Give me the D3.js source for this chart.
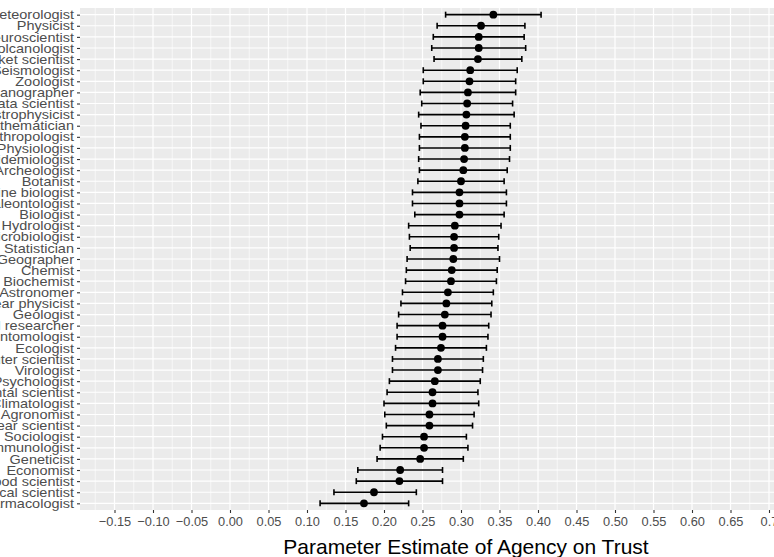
<!DOCTYPE html>
<html>
<head>
<meta charset="utf-8">
<script src="https://cdn.jsdelivr.net/npm/d3@7"></script>
<style>
  body { margin: 0; background: #fff; }
  svg { display: block; font-family: "Liberation Sans", Arial, sans-serif; }
</style>
</head>
<body>
<svg id="chart" width="774" height="557"></svg>
<script>
// professions, top to bottom
var professions = ["Meteorologist", "Physicist", "Neuroscientist", "Volcanologist", "Rocket scientist",
  "Seismologist", "Zoologist", "Oceanographer", "Data scientist", "Astrophysicist", "Mathematician",
  "Anthropologist", "Physiologist", "Epidemiologist", "Archeologist", "Botanist", "Marine biologist",
  "Paleontologist", "Biologist", "Hydrologist", "Microbiologist", "Statistician", "Geographer",
  "Chemist", "Biochemist", "Astronomer", "Nuclear physicist", "Geologist", "Medical researcher",
  "Entomologist", "Ecologist", "Computer scientist", "Virologist", "Psychologist",
  "Environmental scientist", "Climatologist", "Agronomist", "Nuclear scientist", "Sociologist",
  "Immunologist", "Geneticist", "Economist", "Food scientist", "Political scientist", "Pharmacologist"];

// point estimates
var estimates = [0.342, 0.326, 0.323, 0.323, 0.322, 0.312, 0.311, 0.309, 0.308, 0.307, 0.306,
  0.305, 0.305, 0.304, 0.303, 0.300, 0.298, 0.298, 0.298, 0.292, 0.291, 0.291, 0.290,
  0.288, 0.287, 0.283, 0.281, 0.279, 0.276, 0.276, 0.274, 0.270, 0.270, 0.266,
  0.263, 0.263, 0.259, 0.259, 0.252, 0.252, 0.247, 0.221, 0.220, 0.187, 0.174];

// lower / upper bounds of the intervals
var lower = [0.280, 0.269, 0.264, 0.262, 0.265, 0.251, 0.251, 0.247, 0.249, 0.245, 0.248,
  0.246, 0.246, 0.245, 0.246, 0.244, 0.237, 0.237, 0.240, 0.232, 0.233, 0.234, 0.230,
  0.229, 0.228, 0.224, 0.222, 0.219, 0.217, 0.217, 0.215, 0.211, 0.211, 0.207,
  0.204, 0.200, 0.201, 0.203, 0.198, 0.195, 0.191, 0.166, 0.164, 0.135, 0.117];
var upper = [0.404, 0.383, 0.382, 0.384, 0.379, 0.373, 0.371, 0.371, 0.367, 0.369, 0.364,
  0.364, 0.364, 0.363, 0.360, 0.356, 0.359, 0.359, 0.356, 0.352, 0.349, 0.348, 0.350,
  0.347, 0.346, 0.342, 0.340, 0.339, 0.336, 0.335, 0.333, 0.329, 0.328, 0.325,
  0.322, 0.323, 0.317, 0.315, 0.307, 0.309, 0.303, 0.276, 0.276, 0.242, 0.232];

var xTicks = d3.range(-0.15, 0.7001, 0.05);

var svg = d3.select("#chart");
var panel = { left: 80, top: 8, right: 780, bottom: 510 };

var x = d3.scaleLinear().domain([-0.15, 0.70]).range([114.5, 769]);
var y = d3.scalePoint().domain(professions).range([panel.top, panel.bottom]).padding(0.6);

var rows = professions.map(function(p, i) {
  return { name: p, est: estimates[i], lo: lower[i], hi: upper[i] };
});

svg.append("rect")
  .attr("x", panel.left).attr("y", panel.top)
  .attr("width", panel.right - panel.left).attr("height", panel.bottom - panel.top)
  .attr("fill", "#ebebeb");

// minor grid
var minor = d3.range(-0.175, 0.75, 0.05);
svg.selectAll(".minor").data(minor).enter().append("line")
  .attr("x1", d => x(d)).attr("x2", d => x(d))
  .attr("y1", panel.top).attr("y2", panel.bottom)
  .attr("stroke", "#fff").attr("stroke-width", 0.6);

// major grid
svg.selectAll(".vmajor").data(xTicks).enter().append("line")
  .attr("x1", d => x(d)).attr("x2", d => x(d))
  .attr("y1", panel.top).attr("y2", panel.bottom)
  .attr("stroke", "#fff").attr("stroke-width", 1.2);
svg.selectAll(".hmajor").data(professions).enter().append("line")
  .attr("x1", panel.left).attr("x2", panel.right)
  .attr("y1", d => y(d)).attr("y2", d => y(d))
  .attr("stroke", "#fff").attr("stroke-width", 1.2);

// error bars
var bars = svg.append("g").attr("stroke", "#000").attr("stroke-width", 1.6);
bars.selectAll(".h").data(rows).enter().append("line")
  .attr("x1", d => x(d.lo)).attr("x2", d => x(d.hi))
  .attr("y1", d => y(d.name)).attr("y2", d => y(d.name));
bars.selectAll(".l").data(rows).enter().append("line")
  .attr("x1", d => x(d.lo)).attr("x2", d => x(d.lo))
  .attr("y1", d => y(d.name) - 3).attr("y2", d => y(d.name) + 3);
bars.selectAll(".r").data(rows).enter().append("line")
  .attr("x1", d => x(d.hi)).attr("x2", d => x(d.hi))
  .attr("y1", d => y(d.name) - 3).attr("y2", d => y(d.name) + 3);

svg.append("g").selectAll("circle").data(rows).enter().append("circle")
  .attr("cx", d => x(d.est)).attr("cy", d => y(d.name))
  .attr("r", 3.9).attr("fill", "#000");

// y axis (labels slightly stretched sideways like the source)
var yAxis = svg.append("g")
  .attr("transform", "translate(" + panel.left + ",0)")
  .call(d3.axisLeft(y).tickSize(3).tickPadding(2.4));
yAxis.select(".domain").remove();
yAxis.selectAll("line").attr("stroke", "#333").attr("stroke-width", 1.1);
yAxis.selectAll("text").attr("fill", "#4d4d4d").attr("font-size", 13)
  .attr("transform", "scale(1.115,1)")
  .attr("font-family", "Liberation Sans, Arial, sans-serif");

// x axis
var xAxis = svg.append("g")
  .attr("transform", "translate(0," + panel.bottom + ")")
  .call(d3.axisBottom(x).tickValues(xTicks).tickSize(3).tickPadding(4)
    .tickFormat(function(d) { return Math.abs(d - 0.7) < 1e-9 ? "0.7" : d3.format(".2f")(d); }));
xAxis.select(".domain").remove();
xAxis.selectAll("line").attr("stroke", "#333").attr("stroke-width", 1.1);
xAxis.selectAll("text").attr("fill", "#4d4d4d").attr("font-size", 12.8)
  .attr("font-family", "Liberation Sans, Arial, sans-serif");

svg.append("text")
  .attr("x", 466).attr("y", 554)
  .attr("text-anchor", "middle")
  .attr("font-size", 21)
  .attr("fill", "#000")
  .text("Parameter Estimate of Agency on Trust");
</script>
</body>
</html>
